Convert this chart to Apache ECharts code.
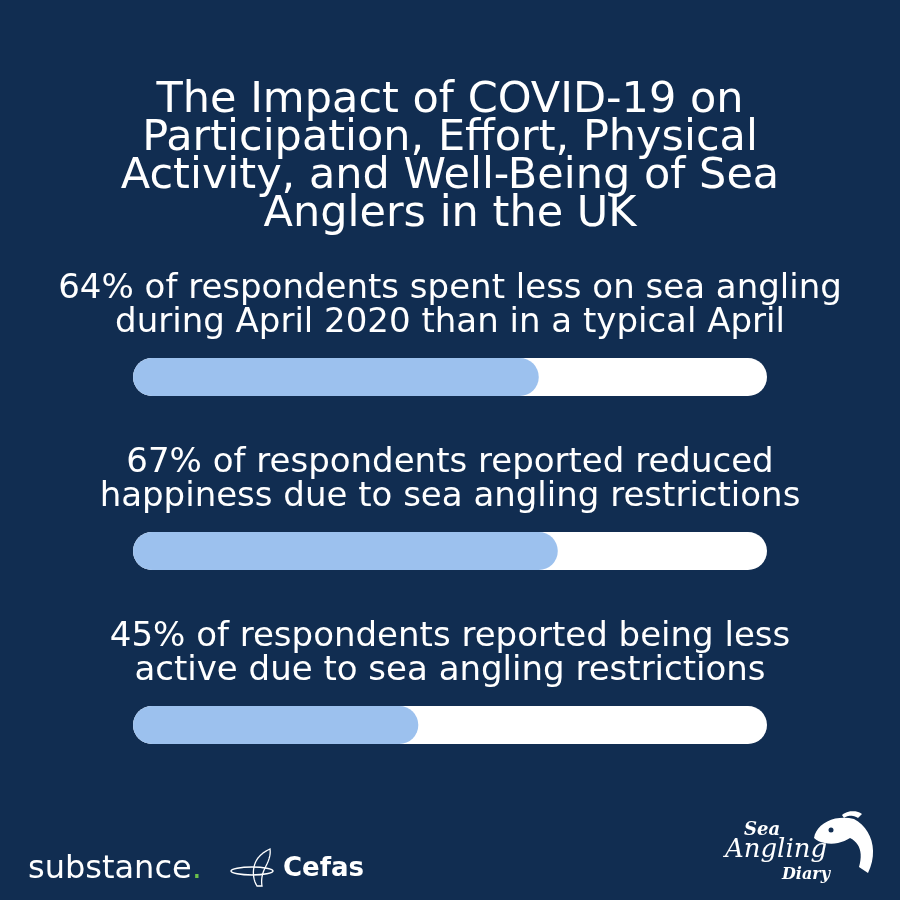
<!DOCTYPE html>
<html>
<head>
<meta charset="utf-8">
<script src="https://cdn.jsdelivr.net/npm/echarts@6/dist/echarts.min.js"></script>
<style>
html,body{margin:0;padding:0;background:#112d51;}
#main{width:900px;height:900px;}
</style>
</head>
<body>
<div id="main"></div>
<script>
const titleText = "The Impact of COVID-19 on\nParticipation, Effort, Physical\nActivity, and Well-Being of Sea\nAnglers in the UK";
const statLabels = [
  "64% of respondents spent less on sea angling\nduring April 2020 than in a typical April",
  "67% of respondents reported reduced\nhappiness due to sea angling restrictions",
  "45% of respondents reported being less\nactive due to sea angling restrictions"
];
const statValues = [64, 67, 45];
const categories = ["Spent less", "Reduced happiness", "Less active"];

const FONT = "DejaVu Sans";
const barTops = [358, 532, 706];
const labelCenters = [306, 480, 654];

// helper: sample a chain of cubic bezier segments into polygon points (logo decoration only)
function bez(start, segs) {
  const pts = [start];
  let p0 = start;
  segs.forEach(s => {
    if (s.length === 1) { pts.push(s[0]); p0 = s[0]; return; }
    const [c1, c2, p3] = s;
    for (let k = 1; k <= 12; k++) {
      const t = k / 12, u = 1 - t;
      pts.push([
        u*u*u*p0[0] + 3*u*u*t*c1[0] + 3*u*t*t*c2[0] + t*t*t*p3[0],
        u*u*u*p0[1] + 3*u*u*t*c1[1] + 3*u*t*t*c2[1] + t*t*t*p3[1]
      ]);
    }
    p0 = p3;
  });
  return pts;
}

const chart = echarts.init(document.getElementById('main'));
const grids = [], xAxes = [], yAxes = [], series = [], texts = [];
texts.push({
  type: 'text', x: 450, y: 158, style: {
    text: titleText, align: 'center', verticalAlign: 'middle',
    fill: '#ffffff', fontFamily: FONT, fontSize: 43, lineHeight: 38
  }
});
statValues.forEach((v, i) => {
  grids.push({left: 133, right: 133, top: barTops[i], height: 38});
  xAxes.push({type: 'value', min: 0, max: 100, gridIndex: i, show: false});
  yAxes.push({type: 'category', data: [categories[i]], gridIndex: i, show: false});
  series.push({
    type: 'bar', xAxisIndex: i, yAxisIndex: i, data: [v], barWidth: 38,
    showBackground: true,
    backgroundStyle: {color: '#ffffff', borderRadius: 19},
    itemStyle: {color: '#9cc1ee', borderRadius: 19},
    silent: true
  });
  texts.push({
    type: 'text', x: 450, y: labelCenters[i], style: {
      text: statLabels[i], align: 'center', verticalAlign: 'middle',
      fill: '#ffffff', fontFamily: FONT, fontSize: 34, lineHeight: 34
    }
  });
});

const cefasFish = bez([257, 886], [
  [[252, 878], [252, 866], [258, 858]],
  [[262, 853], [266, 851], [270, 849]],
  [[271, 856], [268, 862], [265, 868]],
  [[262, 874], [261, 880], [262, 886]]
]);
const seaFish = bez([814, 838], [
  [[816, 824], [834, 814], [854, 819]],
  [[871, 828], [879, 850], [868, 873]],
  [[859, 867]],
  [[863, 853], [860, 843], [850, 838]],
  [[840, 845], [822, 846], [814, 838]]
]);
const seaFin = bez([842, 815], [
  [[848, 810], [856, 810], [862, 814]],
  [[858, 818]],
  [[853, 815], [848, 815], [844, 818]]
]);

chart.setOption({
  backgroundColor: '#112d51',
  animation: false,
  grid: grids, xAxis: xAxes, yAxis: yAxes, series: series,
  graphic: texts.concat([
    {type: 'text', x: 28, y: 870, style: {
      text: '{a|substance}{b|.}', verticalAlign: 'middle', rich: {
        a: {fill: '#ffffff', fontFamily: FONT, fontSize: 32},
        b: {fill: '#6cc04a', fontFamily: FONT, fontSize: 32}
      }}},
    {type: 'ellipse', shape: {cx: 252, cy: 871, rx: 21, ry: 4}, style: {fill: 'none', stroke: '#ffffff', lineWidth: 1.5}},
    {type: 'polygon', shape: {points: cefasFish}, style: {fill: 'none', stroke: '#ffffff', lineWidth: 1.3}},
    {type: 'text', x: 283, y: 869, style: {text: 'Cefas', verticalAlign: 'middle', fill: '#ffffff', fontFamily: FONT, fontSize: 26, fontWeight: 'bold'}},
    {type: 'text', x: 762, y: 830, style: {text: 'Sea', align: 'center', verticalAlign: 'middle', fill: '#ffffff', fontFamily: 'DejaVu Serif', fontStyle: 'italic', fontWeight: 'bold', fontSize: 18}},
    {type: 'text', x: 776, y: 850, style: {text: 'Angling', align: 'center', verticalAlign: 'middle', fill: '#ffffff', fontFamily: 'DejaVu Serif', fontStyle: 'italic', fontSize: 26}},
    {type: 'text', x: 806, y: 875, style: {text: 'Diary', align: 'center', verticalAlign: 'middle', fill: '#ffffff', fontFamily: 'DejaVu Serif', fontStyle: 'italic', fontWeight: 'bold', fontSize: 16}},
    {type: 'polygon', shape: {points: seaFish}, style: {fill: '#ffffff'}},
    {type: 'polygon', shape: {points: seaFin}, style: {fill: '#ffffff'}},
    {type: 'circle', shape: {cx: 831, cy: 830, r: 2.5}, style: {fill: '#112d51'}}
  ])
});
</script>
</body>
</html>
